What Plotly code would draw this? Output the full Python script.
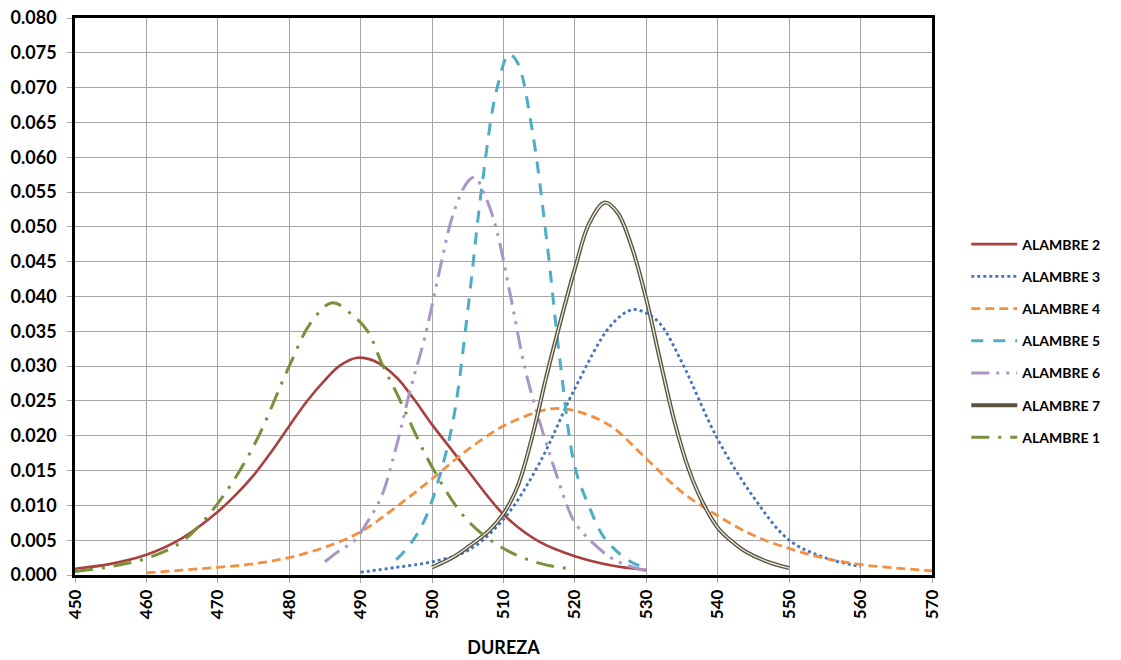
import plotly.graph_objects as go

# ALAMBRE 2 (red, solid)
x_a2 = [450, 455, 460, 465, 470, 472.5, 475, 477.5, 480, 482.5, 485, 487, 489.5, 492, 495, 497.5, 500, 502.5, 505, 510, 515, 520, 525, 530]
y_a2 = [0.0009, 0.0016, 0.0029, 0.0053, 0.0091, 0.0115, 0.0143, 0.0177, 0.0214, 0.0250, 0.0280, 0.0300, 0.0312, 0.0307, 0.0284, 0.0252, 0.0216, 0.0183, 0.0150, 0.0087, 0.0048, 0.0027, 0.0014, 0.0007]

# ALAMBRE 3 (blue, dotted)
x_a3 = [490, 495, 500, 505, 510, 515, 520, 525, 528, 530, 532, 535, 540, 545, 550, 555, 560]
y_a3 = [0.0004, 0.0011, 0.0019, 0.0035, 0.0080, 0.0160, 0.0268, 0.0358, 0.0381, 0.0376, 0.0360, 0.0305, 0.0195, 0.0112, 0.0050, 0.0025, 0.0012]

# ALAMBRE 4 (orange, dashed)
x_a4 = [460, 465, 470, 475, 480, 485, 490, 495, 500, 505, 510, 515, 517, 520, 525, 530, 535, 540, 545, 550, 555, 560, 565, 570]
y_a4 = [0.0003, 0.0007, 0.0011, 0.0016, 0.0025, 0.0040, 0.0062, 0.0098, 0.0138, 0.0180, 0.0214, 0.0235, 0.0239, 0.0236, 0.0214, 0.0167, 0.0119, 0.0085, 0.0057, 0.0038, 0.0024, 0.0015, 0.0010, 0.0006]

# ALAMBRE 5 (cyan, long dash)
x_a5 = [495, 497, 499, 501, 503, 505, 507, 509, 510.8, 512, 514, 516, 518, 520, 522, 524, 526, 528, 530]
y_a5 = [0.0022, 0.0045, 0.0080, 0.0140, 0.0225, 0.0380, 0.0560, 0.0695, 0.0748, 0.0735, 0.0640, 0.0485, 0.0300, 0.0155, 0.0098, 0.0055, 0.0033, 0.0018, 0.0010]

# ALAMBRE 6 (lavender, long dash dot dot)
x_a6 = [485, 487, 489, 491, 493, 495, 497, 499, 501, 503, 505, 506, 507.5, 509, 511, 513, 515, 517, 519, 520, 522, 525, 527, 530]
y_a6 = [0.0019, 0.0035, 0.0048, 0.0077, 0.0115, 0.0185, 0.0268, 0.0342, 0.0435, 0.0520, 0.0565, 0.0571, 0.0543, 0.0497, 0.0400, 0.0297, 0.0222, 0.0157, 0.0097, 0.0075, 0.0051, 0.0025, 0.0015, 0.0006]

# ALAMBRE 7 (double line)
x_a7 = [500, 503, 505, 508, 510, 512, 514, 516, 518, 520, 522, 524.2, 526, 528, 530, 532, 534, 536, 538, 540, 542, 544, 547, 550]
y_a7 = [0.0011, 0.0026, 0.0040, 0.0064, 0.0088, 0.0128, 0.0198, 0.0285, 0.0365, 0.0440, 0.0505, 0.0535, 0.0520, 0.0470, 0.0396, 0.0305, 0.0218, 0.0150, 0.0102, 0.0068, 0.0048, 0.0033, 0.0019, 0.0010]

# ALAMBRE 1 (green, long dash dot)
x_a1 = [450, 455, 460, 465, 470, 475, 480, 483, 486, 489, 491, 493, 495, 500, 505, 510, 515, 520]
y_a1 = [0.0005, 0.0012, 0.0024, 0.0048, 0.0103, 0.0185, 0.0300, 0.0362, 0.0391, 0.0372, 0.0350, 0.0303, 0.0262, 0.0155, 0.0078, 0.0038, 0.0017, 0.0008]

x_ticks = list(range(450, 571, 10))
y_ticks = [i * 0.005 for i in range(17)]

FONT = "Lato"

fig = go.Figure()

def add(name, xs, ys, color, width, dash, group, showlegend=True):
    fig.add_trace(go.Scatter(
        x=xs, y=ys, name=name, mode="lines",
        line=dict(color=color, width=width, dash=dash, shape="spline", smoothing=1.0),
        legendgroup=group, showlegend=showlegend, hoverinfo="x+y+name"))

add("ALAMBRE 2", x_a2, y_a2, "#A8413E", 2.6, "solid", "g2")
add("ALAMBRE 3", x_a3, y_a3, "#4674BC", 2.8, "dot", "g3")
add("ALAMBRE 4", x_a4, y_a4, "#F38F3F", 2.8, "9px,5px", "g4")
add("ALAMBRE 5", x_a5, y_a5, "#4DADC7", 3.0, "12px,10px", "g5")
add("ALAMBRE 6", x_a6, y_a6, "#A897C6", 3.0, "18px,7px,3px,7px,3px,7px", "g6")
add("ALAMBRE 7", x_a7, y_a7, "#57533F", 4.0, "solid", "g7")
add("ALAMBRE 7", x_a7, y_a7, "#EEEBDD", 1.3, "solid", "g7", showlegend=False)
add("ALAMBRE 1", x_a1, y_a1, "#76923B", 3.0, "18px,9px,3px,9px", "g1")

fig.update_layout(
    width=1121, height=660,
    margin=dict(l=75, r=189, t=18, b=85),
    paper_bgcolor="white", plot_bgcolor="white",
    font=dict(family=FONT, color="black"),
    showlegend=True,
    legend=dict(
        x=1.04, xanchor="left", y=0.42, yanchor="middle",
        font=dict(family=FONT, size=14, color="black", weight="bold"),
        traceorder="grouped", tracegroupgap=11,
        bgcolor="rgba(0,0,0,0)", itemwidth=46,
    ),
    xaxis=dict(
        range=[450, 570], tickmode="array", tickvals=x_ticks,
        ticktext=[str(v) for v in x_ticks], tickangle=-90,
        tickfont=dict(family=FONT, size=17, color="black", weight="bold"),
        showgrid=True, gridcolor="#A6A6A6", gridwidth=1,
        showline=True, linecolor="black", linewidth=2.5, mirror=True,
        ticks="outside", ticklen=5, tickcolor="#A6A6A6",
        zeroline=False, automargin=False,
        title=dict(text="DUREZA", font=dict(family=FONT, size=18, color="black", weight="bold"), standoff=24),
    ),
    yaxis=dict(
        range=[0, 0.080], tickmode="array", tickvals=y_ticks,
        ticktext=["%.3f" % v for v in y_ticks],
        tickfont=dict(family=FONT, size=18, color="black", weight="bold"),
        showgrid=True, gridcolor="#A6A6A6", gridwidth=1,
        showline=True, linecolor="black", linewidth=2.5, mirror=True,
        ticks="outside", ticklen=5, tickcolor="#A6A6A6", ticklabelstandoff=7,
        zeroline=False, automargin=False,
    ),
)

fig.write_html("out.html", config={"displayModeBar": False},
               post_script="document.body.style.margin='0';")
